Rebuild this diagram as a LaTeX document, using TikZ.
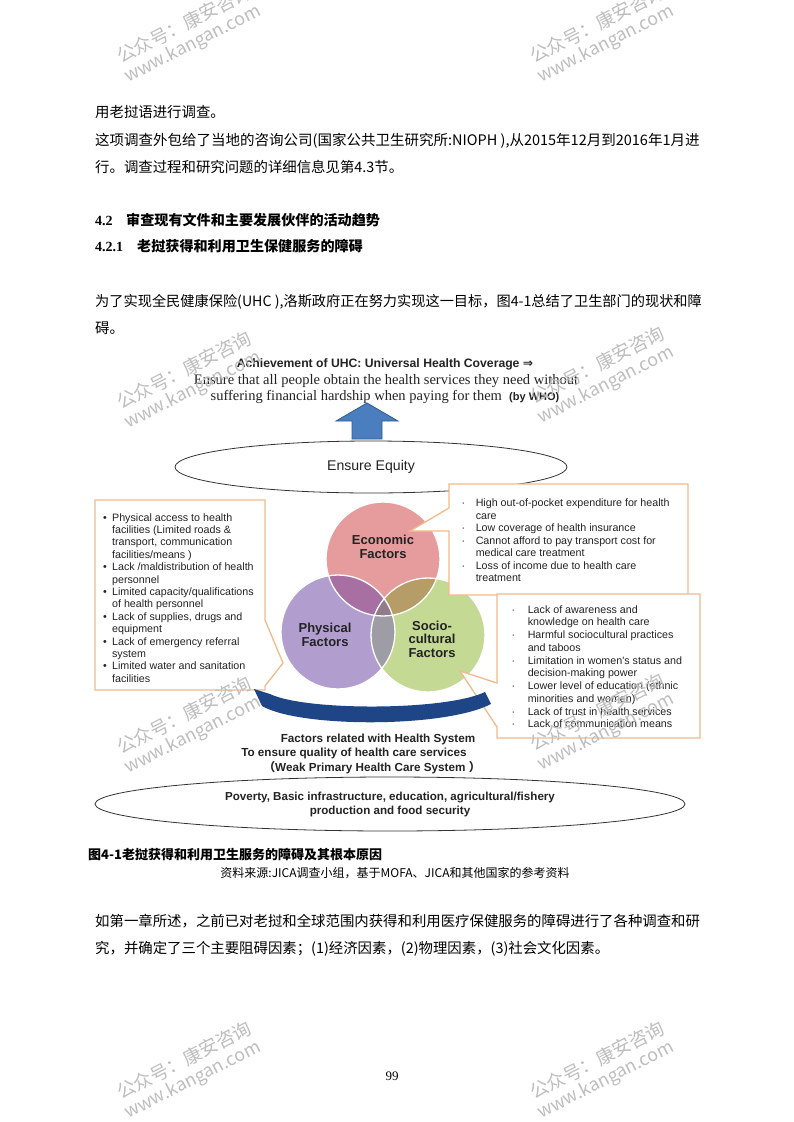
\documentclass[tikz,border=0pt]{standalone}
\usepackage{fontspec}
\setmainfont{Liberation Serif}
\newfontfamily\cjk{Noto Sans CJK SC}
\newfontfamily\arial{Liberation Sans}
\newfontfamily\tnr{Liberation Serif}
\newfontfamily\djv{DejaVu Sans}
\usetikzlibrary{shapes.geometric}
\definecolor{boxline}{RGB}{242,186,140}
\definecolor{econc}{RGB}{230,156,156}
\definecolor{physc}{RGB}{178,158,206}
\definecolor{socic}{RGB}{196,217,148}
\definecolor{epc}{RGB}{168,112,162}
\definecolor{esc}{RGB}{182,156,102}
\definecolor{psc}{RGB}{158,156,164}
\definecolor{epsc}{RGB}{146,124,140}
\definecolor{upblue}{RGB}{74,126,190}
\definecolor{upedge}{RGB}{52,92,140}
\definecolor{navy}{RGB}{30,70,135}
\definecolor{txt}{RGB}{35,35,35}
\definecolor{wm}{RGB}{190,190,190}
\begin{document}
\begin{tikzpicture}[x=1pt,y=-1pt,
  body/.style={font=\cjk\fontsize{14.4}{14.4}\selectfont, anchor=base west, inner sep=0},
  head/.style={font=\cjk\bfseries\fontsize{14.1}{14.1}\selectfont, anchor=base west, inner sep=0},
  headnum/.style={font=\tnr\bfseries\fontsize{14}{14}\selectfont, anchor=base west, inner sep=0},
  callout/.style={draw=boxline, line width=1.3pt, fill=white, line join=miter},
  boxtext/.style={font=\arial\fontsize{10.7}{12.5}\selectfont, text=txt, anchor=north west, inner sep=0},
  circtext/.style={font=\arial\bfseries\fontsize{13}{13.4}\selectfont, text=txt, align=center, inner sep=0},
  systext/.style={font=\arial\bfseries\fontsize{11.7}{12}\selectfont, text=txt, inner sep=0},
  wmark/.style={font=\cjk\fontsize{18.5}{18.5}\selectfont, text=wm, anchor=base west, inner sep=0, rotate=27},
  wmarkb/.style={font=\cjk\fontsize{18}{18}\selectfont, text=wm, anchor=base west, inner sep=0, rotate=27},
  factor/.style={circle, minimum size=114pt, inner sep=0}]
\useasboundingbox (0,0) rectangle (793,1122);
\fill[white] (0,0) rectangle (793,1122);

% ---------------- body text ----------------
\node[body] (l1) at (95,117.4) {用老挝语进行调查。};
\node[body, font=\cjk\fontsize{14.5}{14.5}\selectfont] (l2) at (95,145.4) {这项调查外包给了当地的咨询公司(国家公共卫生研究所:NIOPH ),从2015年12月到2016年1月进};
\node[body] (l3) at (95,172.4) {行。调查过程和研究问题的详细信息见第4.3节。};
\node[headnum] (h1n) at (95,225.4) {4.2};
\node[head] (h1) at (126,225.4) {审查现有文件和主要发展伙伴的活动趋势};
\node[headnum] (h2n) at (95,251.4) {4.2.1};
\node[head] (h2) at (137,251.4) {老挝获得和利用卫生保健服务的障碍};
\node[body, font=\cjk\fontsize{14.2}{14.2}\selectfont] (p1) at (95,306.4) {为了实现全民健康保险(UHC ),洛斯政府正在努力实现这一目标，图4-1总结了卫生部门的现状和障};
\node[body] (p2) at (95,333.4) {碍。};

% ---------------- diagram ----------------
\node[font=\arial\bfseries\fontsize{12.2}{12}\selectfont, text=txt, inner sep=0] (t1) at (385,364)
  {Achievement of UHC: Universal Health Coverage {\djv ⇒}};
\node[font=\tnr\fontsize{14.5}{14}\selectfont, text=txt, inner sep=0] (t2) at (386,381)
  {Ensure that all people obtain the health services they need without};
\node[font=\tnr\fontsize{14.5}{14}\selectfont, text=txt, inner sep=0] (t3) at (385,397)
  {suffering financial hardship when paying for them\enspace{\arial\bfseries\fontsize{11}{11}\selectfont(by WHO)}};

\draw[fill=upblue, draw=upedge, line width=0.8pt, line join=miter]
  (367,403) -- (336,421) -- (352,421) -- (352,439) -- (382,439) -- (382,421) -- (398,421) -- cycle;

\node[ellipse, draw=black!80, line width=0.8pt, minimum width=392pt, minimum height=52pt, inner sep=0,
  font=\arial\fontsize{14.1}{14}\selectfont, text=txt] (equity) at (371,467) {Ensure Equity};

% circles
\node[factor, fill=econc] (econ) at (383,559) {};
\node[factor, fill=physc] (phys) at (338,632) {};
\node[factor, fill=socic] (soci) at (428,635) {};
\begin{scope}
  \clip (338,632) circle [radius=57];
  \fill[psc] (428,635) circle [radius=57];
\end{scope}
\begin{scope}
  \clip (383,559) circle [radius=57];
  \fill[epc] (338,632) circle [radius=57];
  \fill[esc] (428,635) circle [radius=57];
  \clip (338,632) circle [radius=57];
  \fill[epsc] (428,635) circle [radius=57];
\end{scope}
\draw[white, line width=1.3pt] (383,559) circle [radius=57];
\draw[white, line width=1.3pt] (338,632) circle [radius=57];
\draw[white, line width=1.3pt] (428,635) circle [radius=57];
\node[circtext] (econt) at (383,547) {Economic\\Factors};
\node[circtext] (physt) at (325,635) {Physical\\Factors};
\node[circtext] (socit) at (432,639) {Socio-\\cultural\\Factors};

% callout boxes
\draw[callout] (95,500) -- (265,500) -- (265,620) -- (283,663) -- (265,686) -- (265,690) -- (95,690) -- cycle;
\draw[callout] (449,484) -- (688,484) -- (688,595) -- (449,595) -- (449,531) -- (410,531) -- (449,508) -- cycle;
\draw[callout] (497,594) -- (700,594) -- (700,738) -- (497,738) -- (497,727) -- (460,671) -- (497,683) -- cycle;

\node[boxtext, font=\arial\fontsize{10.7}{12.4}\selectfont] (leftlist) at (103,512.3) {%
\begin{tabular}{@{}l@{\hspace{5.2pt}}l@{}}
• & Physical access to health\\
  & facilities (Limited roads \&\\
  & transport, communication\\
  & facilities/means )\\
• & Lack /maldistribution of health\\
  & personnel\\
• & Limited capacity/qualifications\\
  & of health personnel\\
• & Lack of supplies, drugs and\\
  & equipment\\
• & Lack of emergency referral\\
  & system\\
• & Limited water and sanitation\\
  & facilities
\end{tabular}};

\node[boxtext] (econlist) at (461.5,498) {%
\begin{tabular}{@{}l@{\hspace{10.5pt}}l@{}}
· & High out-of-pocket expenditure for health\\
  & care\\
· & Low coverage of health insurance\\
· & Cannot afford to pay transport cost for\\
  & medical care treatment\\
· & Loss of income due to health care\\
  & treatment
\end{tabular}};

\node[boxtext, font=\arial\fontsize{10.7}{12.75}\selectfont] (socilist) at (511.5,603.9) {%
\begin{tabular}{@{}l@{\hspace{12.5pt}}l@{}}
· & Lack of awareness and\\
  & knowledge on health care\\
· & Harmful sociocultural practices\\
  & and taboos\\
· & Limitation in women's status and\\
  & decision-making power\\
· & Lower level of education (ethnic\\
  & minorities and women)\\
· & Lack of trust in health services\\
· & Lack of communication means
\end{tabular}};

% curved navy arrow
\fill[navy] (254,689) -- (270,694) .. controls (305,711) and (445,711) .. (485,692)
  -- (491,704) .. controls (445,728) and (300,728) .. (262,706) -- cycle;

\node[systext] (sys1) at (378,739) {Factors related with Health System};
\node[systext] (sys2) at (354,753) {To ensure quality of health care services};
\node[systext] (sys3) at (372,768) {{\cjk （}Weak Primary Health Care System {\cjk ）}};

\node[ellipse, draw=black!80, line width=0.8pt, minimum width=590pt, minimum height=54pt, inner sep=0,
  font=\arial\bfseries\fontsize{11.6}{14}\selectfont, text=txt, align=center] (base) at (390,804)
  {Poverty, Basic infrastructure, education, agricultural/fishery\\production and food security};

% ---------------- caption & text ----------------
\node[font=\cjk\bfseries\fontsize{13}{13}\selectfont, anchor=base west, inner sep=0] (cap) at (88,859)
  {图4-1老挝获得和利用卫生服务的障碍及其根本原因};
\node[font=\cjk\fontsize{12}{12}\selectfont, anchor=base, inner sep=0] (src) at (395,877)
  {资料来源:JICA调查小组，基于MOFA、JICA和其他国家的参考资料};
\node[body] (b1) at (95,926.4) {如第一章所述，之前已对老挝和全球范围内获得和利用医疗保健服务的障碍进行了各种调查和研};
\node[body] (b2) at (95,953.4) {究，并确定了三个主要阻碍因素；(1)经济因素，(2)物理因素，(3)社会文化因素。};
\node[font=\tnr\fontsize{13}{13}\selectfont, inner sep=0] (pg) at (392,1076) {99};

% ---------------- watermarks ----------------
\foreach \ox/\oy [count=\i] in {121/64, 534/64, 121/410, 534/405, 121/755, 534/752, 121/1100, 534/1100}{
  \node[wmark] (wma\i) at (\ox,\oy) {公众号：康安咨询};
  \node[wmarkb] (wmb\i) at (\ox+7,\oy+19) {www.kangan.com};
}
\end{tikzpicture}
\end{document}
